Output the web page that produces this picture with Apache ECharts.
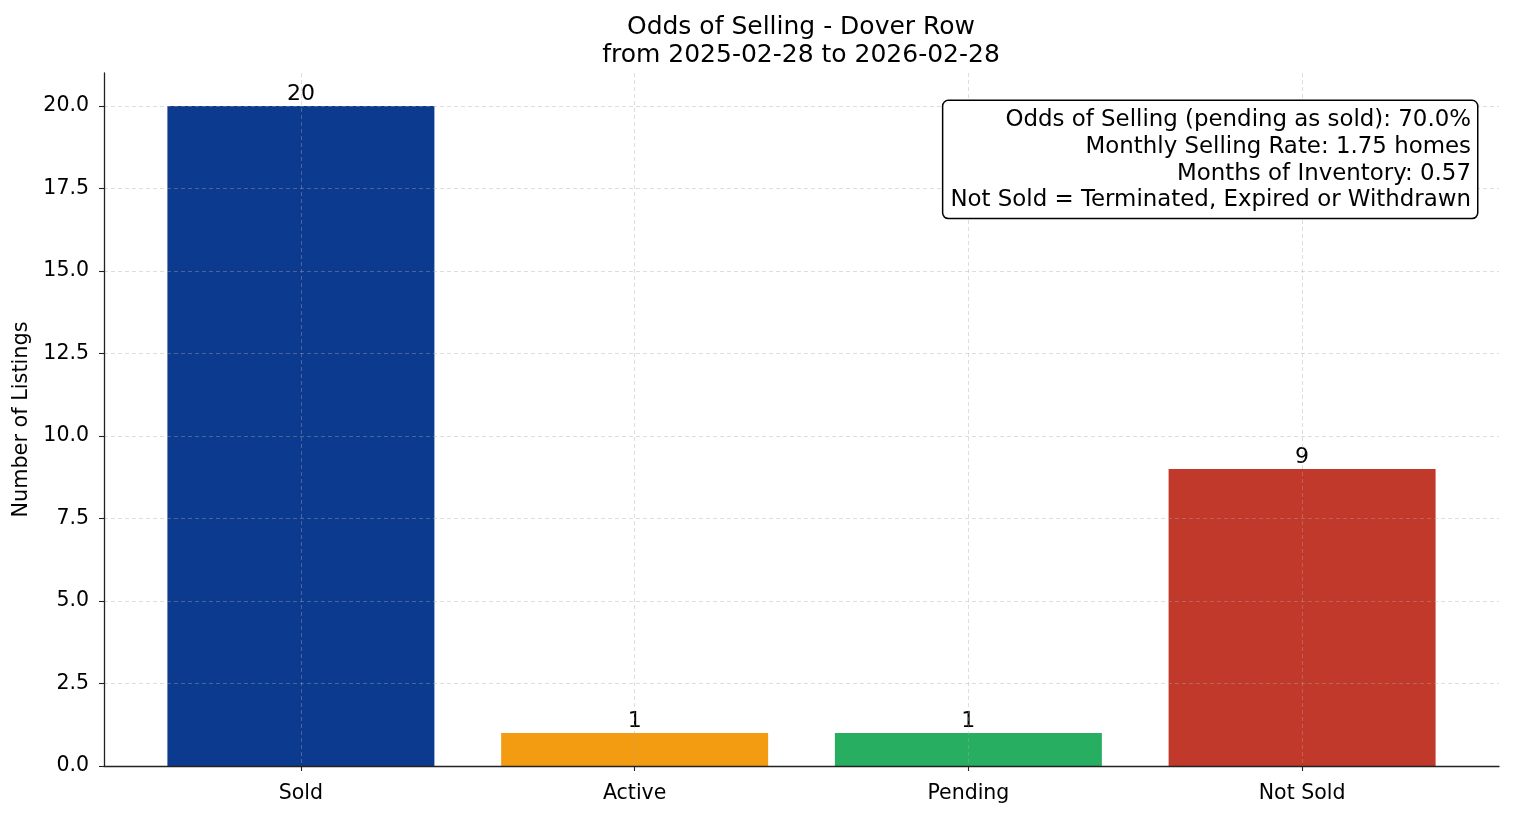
<!DOCTYPE html>
<html>
<head>
<meta charset="utf-8">
<script src="https://cdn.jsdelivr.net/npm/echarts@6/dist/echarts.min.js"></script>
<style>
html,body{margin:0;padding:0;background:#fff;}
#chart{width:1514px;height:816px;}
</style>
</head>
<body>
<div id="chart"></div>
<script>
const titleLines = ['Odds of Selling - Dover Row', 'from 2025-02-28 to 2026-02-28'];
const categories = ['Sold', 'Active', 'Pending', 'Not Sold'];
const counts = [20, 1, 1, 9];
const barColors = ['#0b3a8e', '#f39c12', '#27ae60', '#c0392b'];
const statsLines = [
  'Odds of Selling (pending as sold): 70.0%',
  'Monthly Selling Rate: 1.75 homes',
  'Months of Inventory: 0.57',
  'Not Sold = Terminated, Expired or Withdrawn'
];
const yTicks = [0, 2.5, 5, 7.5, 10, 12.5, 15, 17.5, 20];
const yLabel = 'Number of Listings';

const FONT = 'DejaVu Sans';
const positions = categories.map((c, i) => i);
const chart = echarts.init(document.getElementById('chart'), null, {renderer: 'canvas'});
const gridLine = {show: true, lineStyle: {color: 'rgba(170,170,170,0.5)', type: [4, 3], width: 0.8}};

chart.setOption({
  animation: false,
  backgroundColor: '#fff',
  textStyle: {fontFamily: FONT},
  grid: {left: 104, right: 15, top: 73, bottom: 50, containLabel: false},
  xAxis: {
    type: 'value',
    min: -0.59,
    max: 3.59,
    z: 5,
    axisLine: {show: true, onZero: false, lineStyle: {color: '#222', width: 1.3}},
    axisTick: {show: true, length: 5, customValues: positions, lineStyle: {color: '#222', width: 1.1}},
    axisLabel: {
      customValues: positions,
      formatter: v => categories[Math.round(v)] || '',
      fontFamily: FONT, fontSize: 20.5, color: '#000', margin: 17
    },
    splitLine: gridLine
  },
  yAxis: {
    type: 'value',
    min: 0,
    max: 21,
    z: 5,
    axisLine: {show: true, onZero: false, lineStyle: {color: '#222', width: 1.3}},
    axisTick: {show: true, length: 5, customValues: yTicks, lineStyle: {color: '#222', width: 1.1}},
    axisLabel: {
      customValues: yTicks,
      formatter: v => v.toFixed(1),
      fontFamily: FONT, fontSize: 20.5, color: '#000', margin: 15
    },
    splitLine: gridLine,
    name: yLabel,
    nameLocation: 'middle',
    nameGap: 68,
    nameTextStyle: {fontFamily: FONT, fontSize: 20.8, color: '#000'}
  },
  series: [{
    type: 'bar',
    barWidth: '80%',
    data: counts.map((v, i) => ({value: [positions[i], v], itemStyle: {color: barColors[i]}})),
    label: {
      show: true, position: 'top', distance: 1,
      formatter: p => String(p.value[1]),
      fontFamily: FONT, fontSize: 22, color: '#000'
    }
  }],
  graphic: [
    {type: 'text', x: 801, y: 27, style: {text: titleLines[0], fontFamily: FONT, fontSize: 25, fill: '#000', align: 'center', verticalAlign: 'middle'}},
    {type: 'text', x: 801, y: 55, style: {text: titleLines[1], fontFamily: FONT, fontSize: 25, fill: '#000', align: 'center', verticalAlign: 'middle'}},
    {type: 'text', x: 1477, y: 101, z: 100, style: {
      text: statsLines.join('\n'), fontFamily: FONT, fontSize: 22.9, lineHeight: 26.7, fill: '#000',
      align: 'right', verticalAlign: 'top',
      backgroundColor: '#fff', borderColor: '#000', borderWidth: 1.5, borderRadius: 5,
      padding: [6, 6, 4, 7]
    }}
  ]
});
</script>
</body>
</html>
